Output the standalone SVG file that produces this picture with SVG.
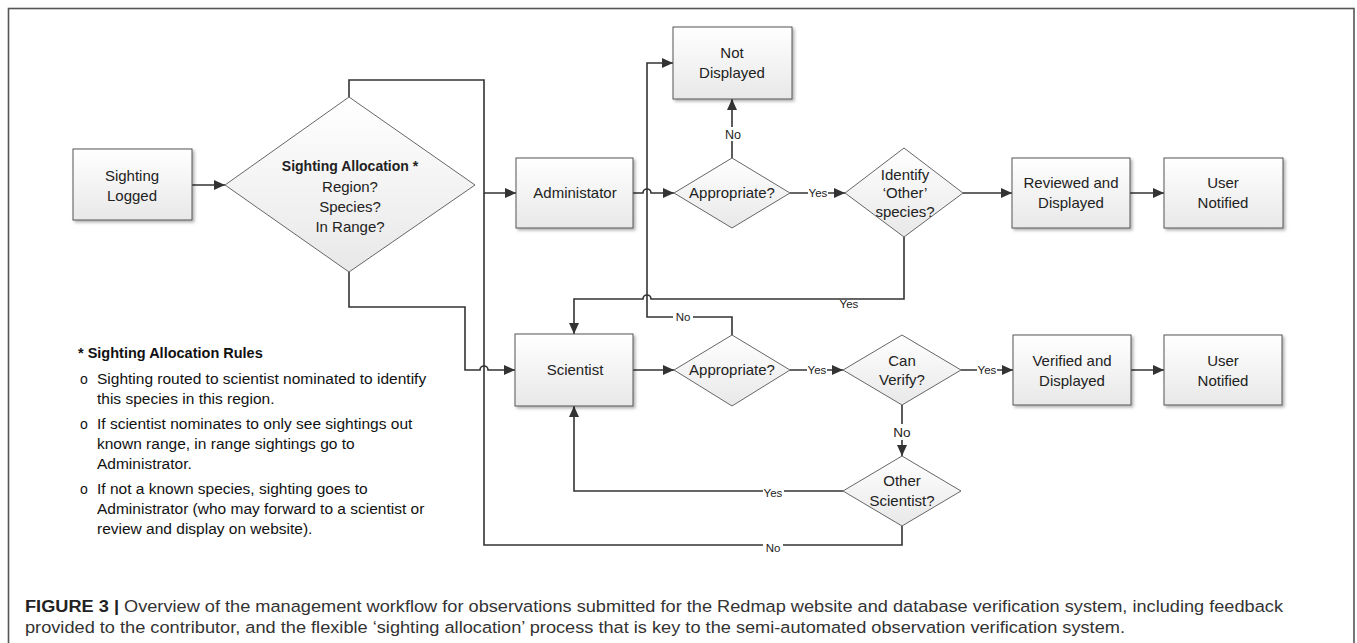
<svg xmlns="http://www.w3.org/2000/svg" width="1357" height="643" viewBox="0 0 1357 643">
<style>
.box{fill:url(#g);stroke:#555;stroke-width:1;filter:url(#sh)}
.dia{fill:url(#g);stroke:#666;stroke-width:1}
.t{font-family:"Liberation Sans",Arial,sans-serif;font-size:15px;fill:#222;text-anchor:middle}
.tb{font-weight:bold;font-size:14px}
.lbl{font-family:"Liberation Sans",Arial,sans-serif;font-size:11.5px;fill:#222;text-anchor:middle}
.bg{fill:#fff}
.c{fill:none;stroke:#333;stroke-width:1.6}
.ca{fill:none;stroke:#333;stroke-width:1.6;marker-end:url(#ah)}
.r{font-family:"Liberation Sans",Arial,sans-serif;font-size:15.5px;fill:#111}
.cap{font-family:"Liberation Sans",Arial,sans-serif;font-size:17.4px;fill:#333}
</style>
<defs>
<linearGradient id="g" x1="0" y1="0" x2="0" y2="1">
<stop offset="0" stop-color="#ffffff"/>
<stop offset="1" stop-color="#e8e8e8"/>
</linearGradient>
<filter id="sh" x="-10%" y="-10%" width="125%" height="130%">
<feDropShadow dx="2" dy="2" stdDeviation="1.5" flood-color="#000" flood-opacity="0.3"/>
</filter>
<marker id="ah" markerUnits="userSpaceOnUse" markerWidth="12" markerHeight="10" refX="11" refY="5" orient="auto">
<path d="M0,0 L11,5 L0,10 z" fill="#333"/>
</marker>
</defs>
<rect x="8.5" y="8.5" width="1345.5" height="660" fill="#fff" stroke="#555" stroke-width="1.6"/>

<g id="connectors">
<path class="ca" d="M192,185 H225"/>
<path class="ca" d="M349,97 V80 H484 V193 H516"/>
<path class="c" d="M902,526 V545 H484 V193"/>
<path class="ca" d="M349,272 V307 H465 V370 H480 A4,4 0 0 1 488,370 H515"/>
<path class="ca" d="M633,193 H643 A4,4 0 0 1 651,193 H674"/>
<path class="ca" d="M732,158 V99"/>
<path class="ca" d="M732,335 V317 H647 V63 H673"/>
<path class="ca" d="M790,193 H845"/>
<path class="ca" d="M963,193 H1012"/>
<path class="ca" d="M1130,193 H1164"/>
<path class="ca" d="M904,237 V299 H651 A4,4 0 0 0 643,299 H574 V334"/>
<path class="ca" d="M633,370 H674"/>
<path class="ca" d="M790,370 H843"/>
<path class="ca" d="M961,370 H1013"/>
<path class="ca" d="M1131,370 H1164"/>
<path class="ca" d="M902,405 V456"/>
<path class="ca" d="M843,491 H574 V406"/>
<rect class="bg" x="723" y="127" width="20" height="14"/>
<text class="lbl" x="733" y="139" style="font-size:12.5px">No</text>
<rect class="bg" x="808" y="187" width="20" height="12"/>
<text class="lbl" x="818" y="197">Yes</text>
<text class="lbl" x="849" y="308">Yes</text>
<rect class="bg" x="673" y="311" width="20" height="12"/>
<text class="lbl" x="683" y="321">No</text>
<rect class="bg" x="807" y="364" width="20" height="12"/>
<text class="lbl" x="817" y="374">Yes</text>
<rect class="bg" x="977" y="364" width="20" height="12"/>
<text class="lbl" x="987" y="374">Yes</text>
<rect class="bg" x="891" y="424" width="22" height="16"/>
<text class="lbl" x="902" y="437" style="font-size:13.5px">No</text>
<rect class="bg" x="763" y="486" width="21" height="12"/>
<text class="lbl" x="773" y="497">Yes</text>
<rect class="bg" x="763" y="540" width="20" height="12"/>
<text class="lbl" x="773" y="552">No</text>
</g>

<g id="sighting-logged">
<rect class="box" x="73" y="149" width="119" height="71"/>
<text class="t" x="132" y="181">Sighting</text>
<text class="t" x="132" y="201">Logged</text>
</g>
<g id="sighting-allocation">
<polygon class="dia" points="349,97 475,185 349,272 225,185"/>
<text class="t tb" x="350" y="171">Sighting Allocation *</text>
<text class="t" x="350" y="192">Region?</text>
<text class="t" x="350" y="212">Species?</text>
<text class="t" x="350" y="232">In Range?</text>
</g>
<g id="administator">
<rect class="box" x="516" y="158" width="117" height="70"/>
<text class="t" x="575" y="198">Administator</text>
</g>
<g id="not-displayed">
<rect class="box" x="673" y="27" width="119" height="72"/>
<text class="t" x="732" y="58">Not</text>
<text class="t" x="732" y="78">Displayed</text>
</g>
<g id="appropriate-admin">
<polygon class="dia" points="732,158 790,193 732,228 674,193"/>
<text class="t" x="732" y="198">Appropriate?</text>
</g>
<g id="identify-other">
<polygon class="dia" points="904,148 963,193 904,237 845,193"/>
<text class="t" x="905" y="180">Identify</text>
<text class="t" x="905" y="198">‘Other’</text>
<text class="t" x="905" y="217">species?</text>
</g>
<g id="reviewed-displayed">
<rect class="box" x="1012" y="158" width="118" height="70"/>
<text class="t" x="1071" y="188">Reviewed and</text>
<text class="t" x="1071" y="208">Displayed</text>
</g>
<g id="user-notified-1">
<rect class="box" x="1164" y="158" width="119" height="70"/>
<text class="t" x="1223" y="188">User</text>
<text class="t" x="1223" y="208">Notified</text>
</g>
<g id="scientist">
<rect class="box" x="515" y="334" width="118" height="72"/>
<text class="t" x="575" y="375">Scientist</text>
</g>
<g id="appropriate-sci">
<polygon class="dia" points="732,335 790,370 732,406 674,370"/>
<text class="t" x="732" y="375">Appropriate?</text>
</g>
<g id="can-verify">
<polygon class="dia" points="902,335 961,370 902,405 843,370"/>
<text class="t" x="902" y="366">Can</text>
<text class="t" x="902" y="385">Verify?</text>
</g>
<g id="verified-displayed">
<rect class="box" x="1013" y="335" width="118" height="70"/>
<text class="t" x="1072" y="366">Verified and</text>
<text class="t" x="1072" y="386">Displayed</text>
</g>
<g id="user-notified-2">
<rect class="box" x="1164" y="335" width="118" height="70"/>
<text class="t" x="1223" y="366">User</text>
<text class="t" x="1223" y="386">Notified</text>
</g>
<g id="other-scientist">
<polygon class="dia" points="902,456 961,491 902,526 843,491"/>
<text class="t" x="902" y="486">Other</text>
<text class="t" x="902" y="506">Scientist?</text>
</g>

<g id="rules">
<text class="r" x="78" y="358" font-weight="bold" style="font-size:14.5px">* Sighting Allocation Rules</text>
<text class="r" x="80" y="384" style="font-size:14px">o</text>
<text class="r" x="97" y="384">Sighting routed to scientist nominated to identify</text>
<text class="r" x="97" y="404">this species in this region.</text>
<text class="r" x="80" y="429" style="font-size:14px">o</text>
<text class="r" x="97" y="429">If scientist nominates to only see sightings out</text>
<text class="r" x="97" y="449">known range, in range sightings go to</text>
<text class="r" x="97" y="469">Administrator.</text>
<text class="r" x="80" y="494" style="font-size:14px">o</text>
<text class="r" x="97" y="494">If not a known species, sighting goes to</text>
<text class="r" x="97" y="514">Administrator (who may forward to a scientist or</text>
<text class="r" x="97" y="534">review and display on website).</text>
</g>

<g id="caption">
<text class="cap" x="25" y="612" textLength="1258" lengthAdjust="spacingAndGlyphs"><tspan font-weight="bold" fill="#222">FIGURE 3 |</tspan> Overview of the management workflow for observations submitted for the Redmap website and database verification system, including feedback</text>
<text class="cap" x="25" y="633" textLength="1100" lengthAdjust="spacingAndGlyphs">provided to the contributor, and the flexible ‘sighting allocation’ process that is key to the semi-automated observation verification system.</text>
</g>
</svg>
